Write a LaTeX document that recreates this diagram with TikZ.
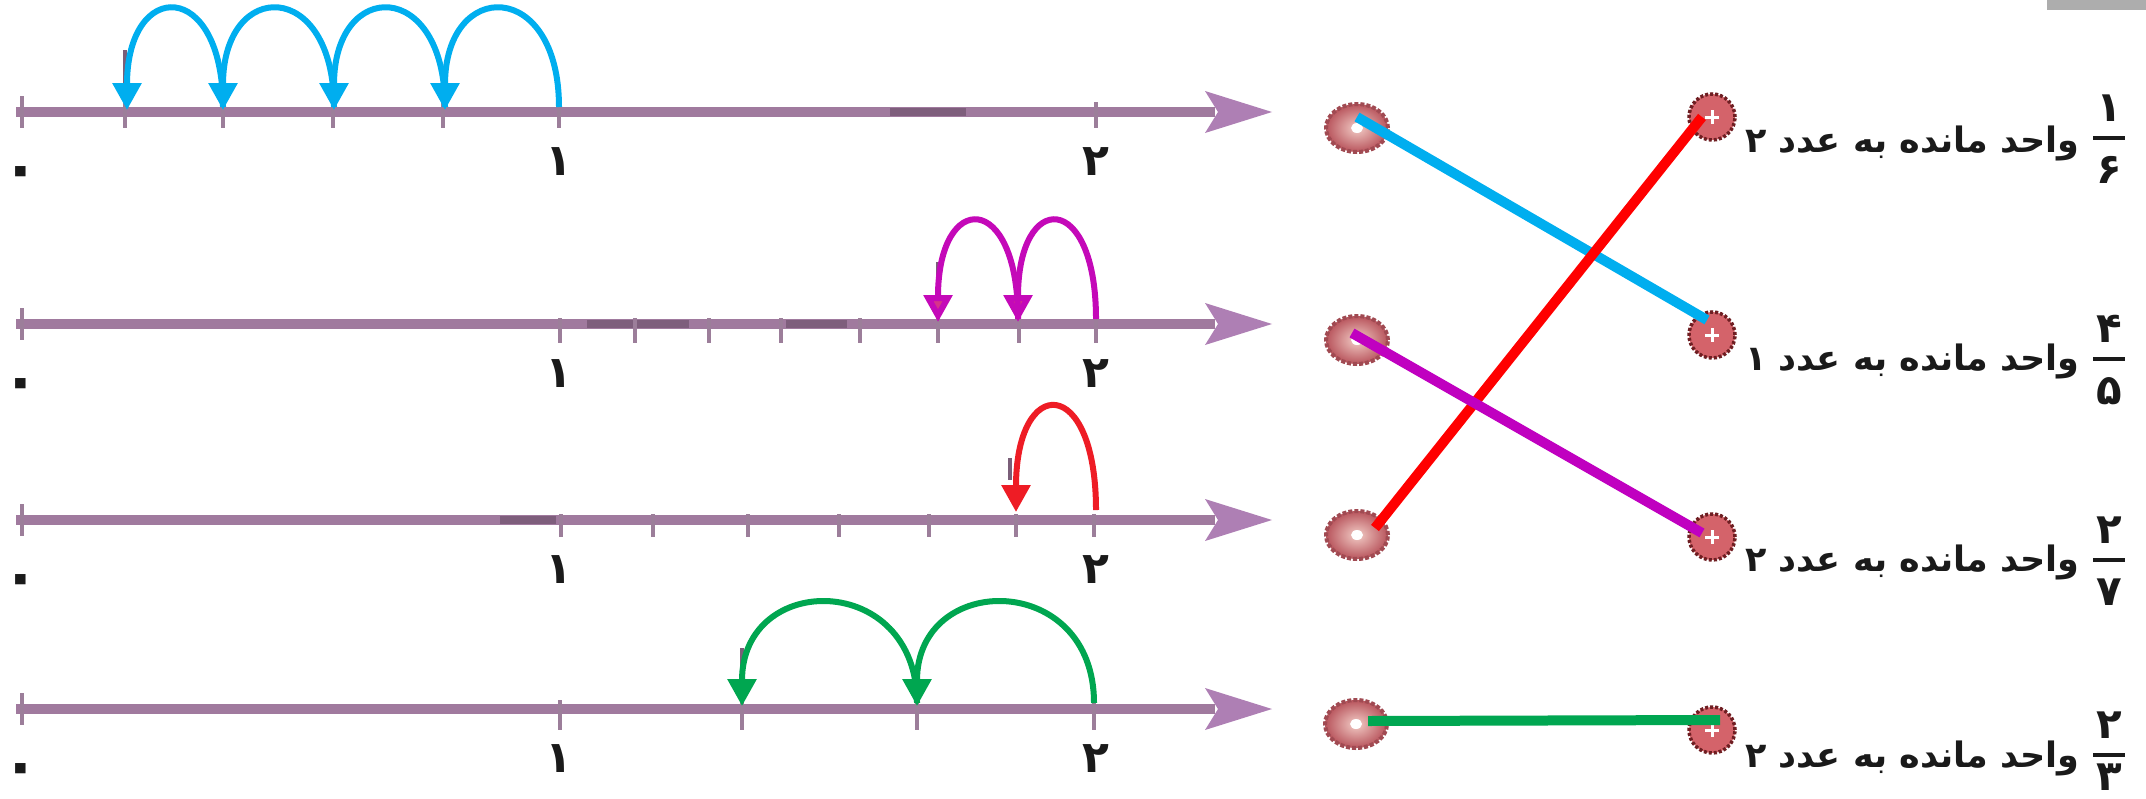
\documentclass[tikz,border=0pt]{standalone}
\usepackage{fontspec}
\usetikzlibrary{arrows.meta,calc,shapes.geometric}
\newfontfamily\fa[Script=Arabic]{DejaVu Sans}
\TeXXeTstate=1
\definecolor{nl}{HTML}{A07A9E}
\definecolor{nlhead}{HTML}{AE7FB4}
\definecolor{nldark}{HTML}{7E5E7C}
\definecolor{tk}{HTML}{9C7E9A}
\definecolor{pmark}{HTML}{7A5E78}
\definecolor{jcyan}{HTML}{00AEEF}
\definecolor{jmag}{HTML}{C409B8}
\definecolor{jmagfill}{HTML}{D6338A}
\definecolor{jred}{HTML}{EE1C25}
\definecolor{jgreen}{HTML}{00A650}
\definecolor{lcyan}{HTML}{00AEEF}
\definecolor{lred}{HTML}{FF0000}
\definecolor{lmag}{HTML}{C000C0}
\definecolor{lgreen}{HTML}{00A651}
\definecolor{dotfill}{HTML}{D4636A}
\definecolor{dotring}{HTML}{6E1E22}
\definecolor{ldotin}{HTML}{F2CCC6}
\definecolor{ldotout}{HTML}{B8545C}
\definecolor{ldotring}{HTML}{A04A52}
\definecolor{corner}{HTML}{ADADAD}
\definecolor{ink}{HTML}{1A1A1A}
\begin{document}
\begin{tikzpicture}[x=1pt,y=-1pt,
  numline/.style={line width=10pt, draw=nl},
  darkseg/.style={line width=8pt, draw=nldark},
  tickmark/.style={line width=4pt, draw=tk},
  pencil/.style={line width=4pt, draw=pmark},
  jump/.style={line width=6pt, -{Triangle[width=28pt,length=27pt]}},
  link/.style={line width=10pt},
  lab/.style={font=\fa\bfseries\fontsize{44}{46}\selectfont, inner sep=0pt, text=ink},
  zlab/.style={font=\fa\bfseries\fontsize{60}{60}\selectfont, inner sep=0pt, text=ink},
  frac/.style={font=\fa\bfseries\fontsize{42}{44}\selectfont, inner sep=0pt, text=ink},
  stmt/.style={font=\fa\bfseries\fontsize{35}{40}\selectfont, inner sep=0pt, text=ink},
  ldot/.style={ellipse, minimum width=62pt, minimum height=48pt, inner color=ldotin, outer color=ldotout, draw=ldotring, line width=4pt, dash pattern=on 4pt off 2pt},
  rdot/.style={circle, minimum size=46pt, fill=dotfill, draw=dotring, line width=3.5pt, dash pattern=on 3pt off 2pt},
  plus/.style={draw=white, line width=3pt}
]
\useasboundingbox (0,0) rectangle (2146,798);
\fill[corner] (2047,0) rectangle (2146,10);

% ---------- number lines ----------
\foreach \ly/\nm in {112/a,324/b,520/c,709/d}{
  \draw[numline] (16,\ly) -- (1215,\ly);
  \fill[nlhead] (1272,\ly) -- (1205,\ly-21) -- (1218,\ly) -- (1205,\ly+21) -- cycle;
  \draw[tickmark] (22,\ly-16) -- (22,\ly+16);
  \node[zlab] (z\nm) at (21,\ly+66) {۰};
  \node[lab] (o\nm) at (559,\ly+50) {\beginR ۱\endR};
  \node[lab] (t\nm) at (1096,\ly+50) {\beginR ۲\endR};
}
% dark scan segments
\draw[darkseg] (890,112) -- (966,112);
\draw[darkseg] (587,324) -- (689,324);
\draw[darkseg] (786,324) -- (847,324);
\draw[darkseg] (500,520) -- (556,520);

% ticks line 1 (fifths of 0..1)
\foreach \tx in {125,223,333,443,559,1096}{\draw[tickmark] (\tx,102) -- (\tx,128);}
% ticks line 2 (sevenths of 1..2)
\foreach \tx in {560,635,709,781,860,938,1019,1096}{\draw[tickmark] (\tx,318) -- (\tx,343);}
% ticks line 3 (sixths of 1..2)
\foreach \tx in {561,653,748,839,929,1016,1094}{\draw[tickmark] (\tx,514) -- (\tx,537);}
% ticks line 4 (thirds of 1..2)
\foreach \tx in {560,742,917,1094}{\draw[tickmark] (\tx,700) -- (\tx,730);}

% pencil marks
\draw[pencil] (125,50) -- (125,83);
\draw[pencil] (938,262) -- (938,290);
\draw[pencil] (1010,458) -- (1010,480);
\draw[pencil] (742,648) -- (742,677);

% ---------- jumps ----------
\foreach \xs/\xe in {559/445,445/334,334/223,223/127}{
  \draw[jump, jcyan] (\xs,107) .. controls (\xs,-22) and (\xe,-22) .. (\xe,110);
}
\foreach \xs/\xe in {1096/1018,1018/938}{
  \draw[jump, jmag, -{Triangle[width=28pt,length=27pt,fill=jmagfill]}] (\xs,319) .. controls (\xs,190) and (\xe,190) .. (\xe,322);
}
\draw[jump, jred] (1096,510) .. controls (1096,374) and (1016,374) .. (1016,512);
\foreach \xs/\xe in {1094/917,917/742}{
  \draw[jump, jgreen] (\xs,703) .. controls (\xs,571) and (\xe,571) .. (\xe,706);
}

% ---------- matching dots ----------
\node[ldot] (l1) at (1357,128) {};
\node[ldot] (l2) at (1357,340) {};
\node[ldot] (l3) at (1357,535) {};
\node[ldot] (l4) at (1356,724) {};
\node[rdot] (r1) at (1712,117) {};
\node[rdot] (r2) at (1712,335) {};
\node[rdot] (r3) at (1712,537) {};
\node[rdot] (r4) at (1712,730) {};
\foreach \d in {r1,r2,r3,r4}{
  \draw[plus] ($(\d)+(-7,0)$) -- ($(\d)+(7,0)$);
  \draw[plus] ($(\d)+(0,-7)$) -- ($(\d)+(0,7)$);
}
\foreach \d in {l1,l2,l3,l4}{
  \fill[white] (\d) ellipse (6pt and 5pt);
}

% ---------- connectors ----------
\draw[link, lcyan] ($(l1)+(0,-11)$) -- ($(r2)+(-5,-15)$);
\draw[link, lred] ($(l3)+(18,-7)$) -- ($(r1)+(-10,0)$);
\draw[link, lmag] ($(l2)+(-5,-7)$) -- ($(r3)+(-10,-4)$);
\draw[link, lgreen] ($(l4)+(12,-3)$) -- ($(r4)+(8,-10)$);

% ---------- statements ----------
\foreach \by/\dg/\n/\fy/\nu/\de/\dd in {152/۲/1/138/۱/۶/32, 370/۱/2/359/۴/۵/32, 571/۲/3/560/۲/۷/32, 767/۲/4/755/۲/۳/22}{
  \node[stmt, anchor=base east] (s\n) at (2080,\by) {\beginR واحد مانده به عدد \dg\endR};
  \node[frac] (n\n) at (2109,\fy-30) {\beginR\nu\endR};
  \node[frac] (d\n) at (2109,\fy+\dd) {\beginR\de\endR};
  \draw[line width=4pt, ink] (2093,\fy) -- (2125,\fy);
}
\end{tikzpicture}
\end{document}
